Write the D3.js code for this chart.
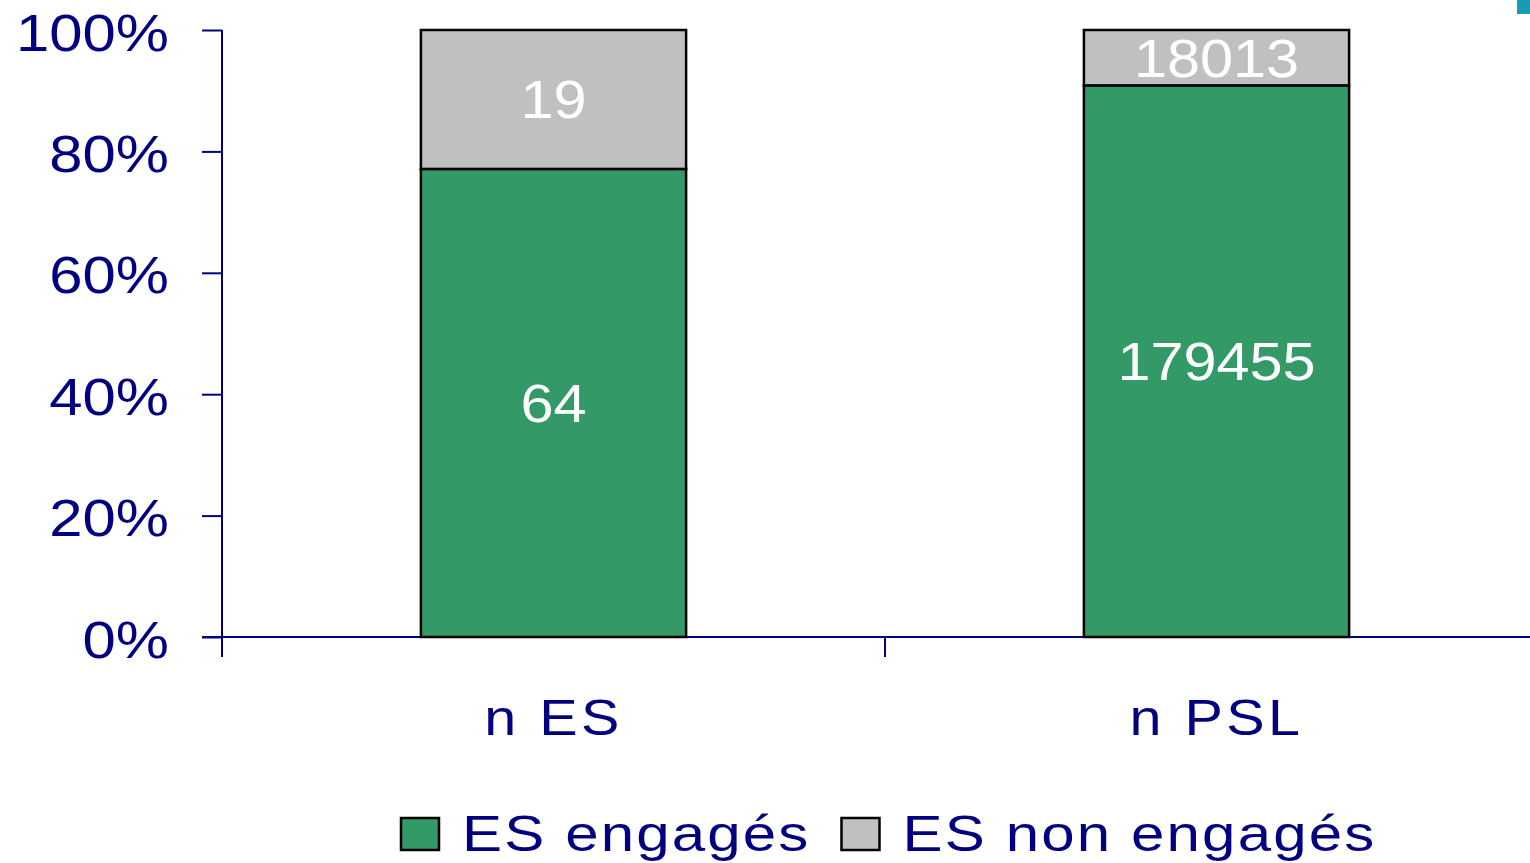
<!DOCTYPE html>
<html>
<head>
<meta charset="utf-8">
<script src="https://cdn.jsdelivr.net/npm/d3@7"></script>
<style>
  body { margin: 0; background: #fff; }
  svg { display: block; font-family: 'Liberation Sans', Arial, sans-serif; }
</style>
</head>
<body>
<svg id="chart" width="1530" height="863"></svg>
<script>
// data
const categories = ['n ES', 'n PSL']
const engages = [64, 179455]
const nonEngages = [19, 18013]
const seriesNames = ['ES engagés', 'ES non engagés']
const yTicks = [0, 0.2, 0.4, 0.6, 0.8, 1]

const navy = '#000080'
const colors = ['#339966', '#c0c0c0']

const svg = d3.select('#chart')

const rows = categories.map((c, i) => ({ cat: c, a: engages[i], b: nonEngages[i] }))
const stack = d3.stack().keys(['a', 'b']).offset(d3.stackOffsetExpand)
const series = stack(rows)

const x = d3.scaleBand()
  .domain(categories)
  .range([222, 1548])
  .paddingInner(0.6)
  .paddingOuter(0.3)

const y = d3.scaleLinear().domain([0, 1]).range([637, 30])

// y axis
const yAxis = svg.append('g')
  .attr('transform', `translate(${x.range()[0]},0)`)
  .call(d3.axisLeft(y).tickValues(yTicks).tickSize(20).tickFormat(d3.format('.0%')))
yAxis.select('.domain').attr('stroke', navy).attr('stroke-width', 2).attr('d', `M0,${y(1)}V${y(0)}`)
yAxis.selectAll('.tick line').attr('stroke', navy).attr('stroke-width', 2)
yAxis.selectAll('.tick text')
  .attr('x', 0)
  .attr('dy', null)
  .attr('fill', navy)
  .attr('font-size', 52)
  .attr('text-anchor', 'end')
  .attr('transform', 'translate(-53,20) scale(1.15,1)')

// x axis
const xAxis = svg.append('g')
  .attr('transform', `translate(0,${y(0)})`)
xAxis.append('line')
  .attr('x1', x.range()[0] - 20).attr('x2', 1530)
  .attr('stroke', navy).attr('stroke-width', 2)
const bounds = [x.range()[0], x.range()[0] + x.step()]
xAxis.selectAll('line.tk').data(bounds).join('line')
  .attr('class', 'tk')
  .attr('x1', d => d).attr('x2', d => d)
  .attr('y1', 0).attr('y2', 20)
  .attr('stroke', navy).attr('stroke-width', 2)
xAxis.selectAll('text').data(categories).join('text')
  .attr('transform', d => `translate(${x(d) + x.bandwidth() / 2},98) scale(1.15,1)`)
  .attr('text-anchor', 'middle')
  .attr('font-size', 50)
  .attr('letter-spacing', 3)
  .attr('fill', navy)
  .text(d => d)

// bars
const layers = svg.append('g').selectAll('g').data(series).join('g')
  .attr('fill', (d, i) => colors[i])
layers.selectAll('rect').data(d => d).join('rect')
  .attr('x', d => x(d.data.cat))
  .attr('y', d => y(d[1]))
  .attr('width', x.bandwidth())
  .attr('height', d => y(d[0]) - y(d[1]))
  .attr('stroke', '#000')
  .attr('stroke-width', 2.5)

// labels
layers.selectAll('text').data(d => d.map(v => ({ v, key: d.key }))).join('text')
  .attr('transform', d => `translate(${x(d.v.data.cat) + x.bandwidth() / 2},${(y(d.v[0]) + y(d.v[1])) / 2 + 19}) scale(1.1,1)`)
  .attr('text-anchor', 'middle')
  .attr('font-size', 54)
  .attr('fill', '#fff')
  .text(d => d.v.data[d.key])

// legend
const legend = svg.append('g').attr('transform', 'translate(400,851)')
let lx = 0
seriesNames.forEach((name, i) => {
  const g = legend.append('g').attr('transform', `translate(${lx},0)`)
  g.append('rect')
    .attr('x', 1).attr('y', -33)
    .attr('width', 38).attr('height', 32)
    .attr('fill', colors[i])
    .attr('stroke', '#000').attr('stroke-width', 2.5)
  const t = g.append('text')
    .attr('transform', 'translate(62,0) scale(1.2,1)')
    .attr('font-size', 50)
    .attr('letter-spacing', 1.8)
    .attr('fill', navy)
    .text(name)
  lx += 62 + t.node().getComputedTextLength() * 1.2 + 30
})

// corner mark
svg.append('rect')
  .attr('x', 1517).attr('y', 0).attr('width', 13).attr('height', 14)
  .attr('fill', '#1a9bb5')
</script>
</body>
</html>
